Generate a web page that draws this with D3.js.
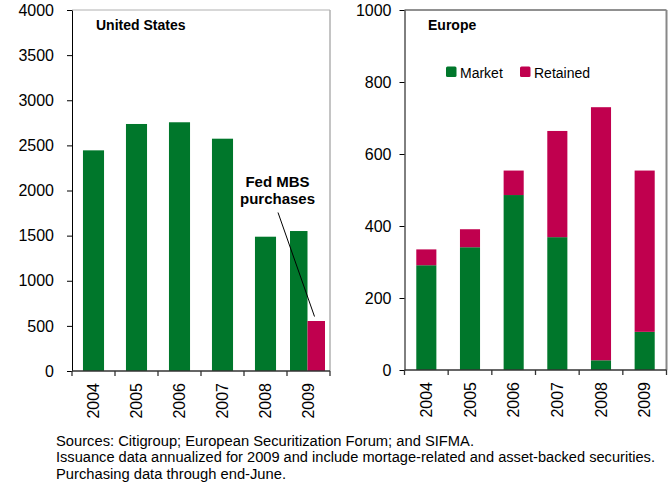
<!DOCTYPE html>
<html>
<head>
<meta charset="utf-8">
<script src="https://cdn.jsdelivr.net/npm/d3@7"></script>
<style>
  html, body { margin: 0; padding: 0; background: #fff; }
  svg { display: block; font-family: Arial, "Liberation Sans", sans-serif; }
</style>
</head>
<body>
<svg id="chart" width="672" height="487"></svg>
<script>
// ---------- data ----------
const years = ["2004", "2005", "2006", "2007", "2008", "2009"];
const usIssuance = [2445, 2737, 2756, 2574, 1488, 1551];
const usFedPurchases = [null, null, null, null, null, 554];
const euMarket = [291, 341, 486, 369, 27, 106];
const euRetained = [44, 50, 68, 295, 703, 448];
const usTicks = [0, 500, 1000, 1500, 2000, 2500, 3000, 3500, 4000];
const euTicks = [0, 200, 400, 600, 800, 1000];
const seriesNames = ["Market", "Retained"];
const usTitle = "United States";
const euTitle = "Europe";
const annotation = ["Fed MBS", "purchases"];
const footnotes = [
  "Sources: Citigroup; European Securitization Forum; and SIFMA.",
  "Issuance data annualized for 2009 and include mortage-related and asset-backed securities.",
  "Purchasing data through end-June."
];

const GREEN = "#00772b";
const RED = "#c0004e";

const svg = d3.select("#chart");

function panel(opts) {
  const g = svg.append("g");
  const x = d3.scaleBand().domain(years).range([opts.left, opts.right]).padding(0);
  const y = d3.scaleLinear().domain(opts.domain).range([opts.bottom, opts.top]);

  // frame (top + right)
  g.append("line").attr("x1", opts.left).attr("x2", opts.right)
    .attr("y1", opts.top).attr("y2", opts.top)
    .attr("stroke", opts.topColor).attr("stroke-width", 1);
  g.append("line").attr("x1", opts.right).attr("x2", opts.right)
    .attr("y1", opts.top).attr("y2", opts.bottom)
    .attr("stroke", opts.rightColor).attr("stroke-width", opts.rightWidth);

  opts.drawBars(g, x, y);

  // y axis
  const ya = g.append("g").attr("transform", `translate(${opts.left},0)`)
    .call(d3.axisLeft(y).tickValues(opts.ticks).tickSize(5).tickSizeOuter(0)
      .tickPadding(opts.tickPad).tickFormat(d3.format("d")));
  ya.select(".domain").attr("stroke", "#000");
  ya.selectAll(".tick line").attr("stroke", "#000");
  ya.selectAll(".tick text").attr("font-size", 16).attr("fill", "#000")
    .attr("font-family", "Arial, 'Liberation Sans', sans-serif");

  // x axis line + boundary ticks
  g.append("line").attr("x1", opts.left).attr("x2", opts.right)
    .attr("y1", opts.bottom).attr("y2", opts.bottom)
    .attr("stroke", "#333").attr("stroke-width", 1.3);
  const bounds = years.map(d => x(d)).concat([x.range()[1]]);
  g.selectAll(".xt").data(bounds).join("line")
    .attr("x1", d => d).attr("x2", d => d)
    .attr("y1", opts.bottom).attr("y2", opts.bottom + 5)
    .attr("stroke", "#333").attr("stroke-width", 1.3);
  g.selectAll(".xl").data(years).join("text")
    .attr("transform", d => `translate(${x(d) + x.bandwidth() / 2},${opts.bottom + 12}) rotate(-90)`)
    .attr("text-anchor", "end").attr("dy", "0.35em")
    .attr("font-size", 16).attr("fill", "#000")
    .text(d => d);

  // title
  g.append("text").attr("x", opts.titleX).attr("y", 30)
    .attr("font-size", 14).attr("font-weight", "bold").attr("fill", "#000")
    .text(opts.title);
  return { g, x, y };
}

// ---------- United States ----------
panel({
  left: 72, right: 330, top: 10, bottom: 371, domain: [0, 4000], ticks: usTicks,
  tickPad: 13, topColor: "#b0b0b0", rightColor: "#b0b0b0", rightWidth: 1.5,
  title: usTitle, titleX: 96,
  drawBars(g, x, y) {
    const bw = x.bandwidth() * 0.49;
    years.forEach((yr, i) => {
      const c = x(yr) + x.bandwidth() / 2;
      if (usFedPurchases[i] == null) {
        g.append("rect").attr("x", c - bw / 2).attr("width", bw)
          .attr("y", y(usIssuance[i])).attr("height", y(0) - y(usIssuance[i]))
          .attr("fill", GREEN);
      } else {
        const sub = d3.scaleBand().domain(["iss", "fed"]).range([c - 18.5, c + 16.5]);
        g.append("rect").attr("x", sub("iss")).attr("width", sub.bandwidth())
          .attr("y", y(usIssuance[i])).attr("height", y(0) - y(usIssuance[i]))
          .attr("fill", GREEN);
        g.append("rect").attr("x", sub("fed")).attr("width", sub.bandwidth())
          .attr("y", y(usFedPurchases[i])).attr("height", y(0) - y(usFedPurchases[i]))
          .attr("fill", RED);
      }
    });
    // annotation
    g.append("text").attr("x", 277.5).attr("y", 187).attr("text-anchor", "middle")
      .attr("font-size", 15).attr("font-weight", "bold").text(annotation[0]);
    g.append("text").attr("x", 277.5).attr("y", 204).attr("text-anchor", "middle")
      .attr("font-size", 15).attr("font-weight", "bold").text(annotation[1]);
    g.append("line").attr("x1", 278).attr("y1", 212.5).attr("x2", 314.5).attr("y2", 316.5)
      .attr("stroke", "#000").attr("stroke-width", 1);
  }
});

// ---------- Europe ----------
panel({
  left: 404.5, right: 666.5, top: 10, bottom: 370, domain: [0, 1000], ticks: euTicks,
  tickPad: 8, topColor: "#222", rightColor: "#888", rightWidth: 2,
  title: euTitle, titleX: 428,
  drawBars(g, x, y) {
    const bw = x.bandwidth() * 0.46;
    const rows = years.map((yr, i) => ({ year: yr, Market: euMarket[i], Retained: euRetained[i] }));
    const stack = d3.stack().keys(seriesNames)(rows);
    const color = d3.scaleOrdinal().domain(seriesNames).range([GREEN, RED]);
    g.selectAll(".layer").data(stack).join("g").attr("fill", s => color(s.key))
      .selectAll("rect").data(s => s).join("rect")
      .attr("x", d => x(d.data.year) + x.bandwidth() / 2 - bw / 2)
      .attr("width", bw)
      .attr("y", d => y(d[1]))
      .attr("height", d => y(d[0]) - y(d[1]));

    // legend
    const lx = [446, 520];
    seriesNames.forEach((n, i) => {
      g.append("rect").attr("x", lx[i]).attr("y", 66.5).attr("width", 10.5).attr("height", 10.5)
        .attr("rx", 1.5).attr("fill", color(n));
      g.append("text").attr("x", lx[i] + 14).attr("y", 78).attr("font-size", 14)
        .attr("fill", "#000").text(n);
    });
  }
});

// ---------- footnotes ----------
const fnWidths = [418, 599, 230];
svg.selectAll(".fn").data(footnotes).join("text")
  .attr("x", 56).attr("y", (d, i) => 446 + i * 16.3)
  .attr("font-size", 14).attr("fill", "#000")
  .attr("textLength", (d, i) => fnWidths[i]).attr("lengthAdjust", "spacingAndGlyphs")
  .text(d => d);
</script>
</body>
</html>
